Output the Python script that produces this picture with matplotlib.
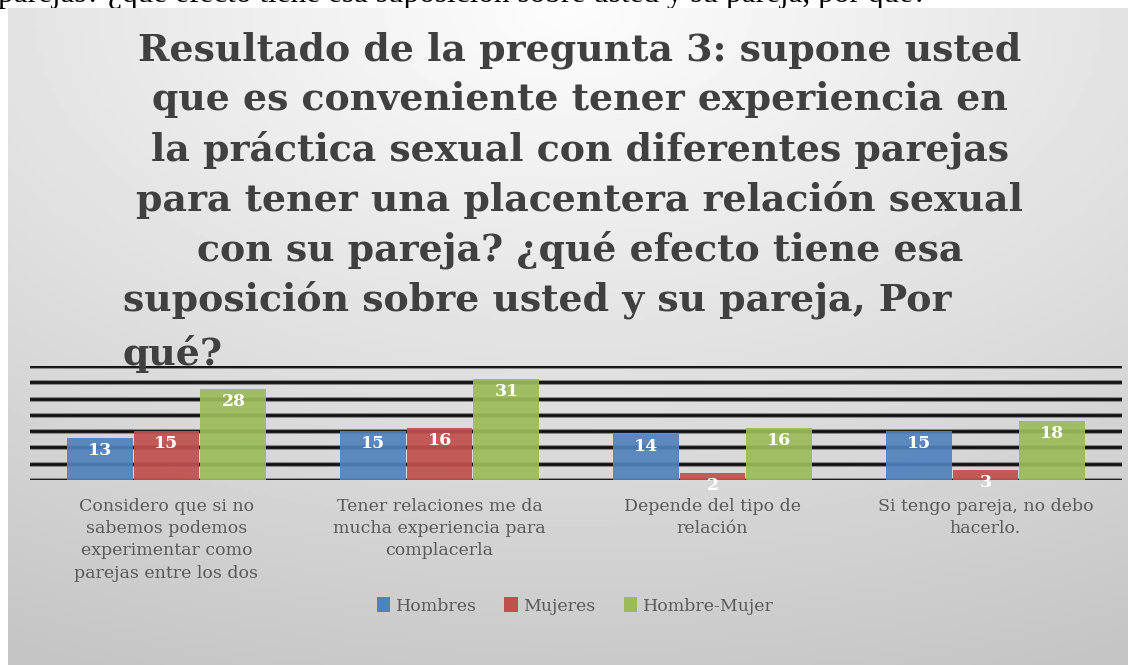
import numpy as np
import matplotlib.pyplot as plt
from matplotlib.patches import Patch

# Datos del gráfico
categorias = [
    "Considero que si no\nsabemos podemos\nexperimentar como\nparejas entre los dos",
    "Tener relaciones me da\nmucha experiencia para\ncomplacerla",
    "Depende del tipo de\nrelación",
    "Si tengo pareja, no debo\nhacerlo.",
]
series = ["Hombres", "Mujeres", "Hombre-Mujer"]
hombres = [13, 15, 14, 15]
mujeres = [15, 16, 2, 3]
hombre_mujer = [28, 31, 16, 18]
colores = ["#4f81bd", "#c0504d", "#9bbb59"]

titulo = [
    "Resultado de la pregunta 3: supone usted",
    "que es conveniente tener experiencia en",
    "la práctica sexual con diferentes parejas",
    "para tener una placentera relación sexual",
    "con su pareja? ¿qué efecto tiene esa",
    "suposición sobre usted y su pareja, Por",
    "qué?",
]
texto_cortado = "parejas? ¿qué efecto tiene esa suposición sobre usted y su pareja, por qué?"

W, H = 1136, 665
fig = plt.figure(figsize=(W / 100, H / 100), dpi=100)
fig.patch.set_facecolor("white")


def fx(px):
    return px / W


def fy(py):
    return 1 - py / H


serif = ["DejaVu Serif"]

# Texto del documento que queda cortado arriba (tapado por la caja del gráfico)
fig.text(fx(-2), fy(2), texto_cortado, fontsize=22.5, family="Liberation Serif",
         va="baseline", ha="left", zorder=0)

# Fondo con degradado (caja del gráfico)
box_l, box_t, box_r, box_b = 8, 8, 1128, 665
bg = fig.add_axes([fx(box_l), fy(box_b), fx(box_r - box_l), (box_b - box_t) / H], zorder=1)
yy, xx = np.mgrid[0:1:200j, 0:1:300j]
r = np.sqrt((xx - 0.5) ** 2 + yy ** 2)
grad = 0.99 - 0.22 * np.clip(r / 1.1, 0, 1)
bg.imshow(grad, cmap="gray", vmin=0, vmax=1, aspect="auto", extent=[0, 1, 1, 0])
bg.set_axis_off()

# Ejes principales
ax = fig.add_axes([fx(30), fy(480), fx(1122 - 30), (480 - 366) / H], zorder=2)
ax.patch.set_alpha(0)
x = np.arange(len(categorias))
ancho = 0.245
for v in range(0, 36, 5):
    ax.axhline(v, color="#8a8a8a", lw=3.6, zorder=0.5)
    ax.axhline(v, color="#111111", lw=2.0, zorder=0.6)

for i, (vals, c, nombre) in enumerate(zip([hombres, mujeres, hombre_mujer], colores, series)):
    pos = x + (i - 1) * ancho
    ax.bar(pos, vals, width=ancho - 0.004, color=c, alpha=0.92, zorder=2, label=nombre)
    for xi, v in zip(pos, vals):
        ax.annotate(str(v), xy=(xi, v), xytext=(0, -9), textcoords="offset points",
                    ha="center", va="center", color="white", fontsize=12.5,
                    fontweight="bold", family=serif, zorder=3, annotation_clip=False)

ax.set_xlim(-0.5, 3.5)
ax.set_ylim(0, 35)
ax.set_xticks(x)
ax.set_xticklabels(categorias, fontsize=12.5, color="#595959", family=serif,
                   linespacing=1.4, va="top")
ax.tick_params(axis="x", length=0, pad=13)
ax.set_yticks([])
for s in ax.spines.values():
    s.set_visible(False)

# Título
for k, linea in enumerate(titulo):
    ypix = 50 + 50 * k
    if k < 5:
        fig.text(fx(580), fy(ypix), linea, ha="center", va="center", fontsize=27.3,
                 fontweight="bold", color="#404040", family=serif, zorder=4)
    else:
        fig.text(fx(123), fy(ypix if k == 5 else 354), linea, ha="left", va="center",
                 fontsize=27.3, fontweight="bold", color="#404040", family=serif, zorder=4)

# Leyenda
handles = [Patch(facecolor=c, edgecolor="none") for c in colores]
fig.legend(handles, series, loc="center", bbox_to_anchor=(fx(575), fy(606)), ncol=3,
           frameon=False, prop={"family": serif, "size": 12.5}, handlelength=0.8,
           handleheight=0.9, handletextpad=0.3, columnspacing=1.6, labelcolor="#595959")

fig.savefig("out.png", dpi=100)
